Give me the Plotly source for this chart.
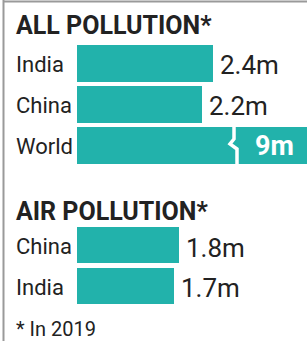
import plotly.graph_objects as go

# ---- data ----
all_categories = ["India", "China", "World"]
all_values = [2.4, 2.2, 9.0]
all_labels = ["2.4m", "2.2m", "9m"]

air_categories = ["China", "India"]
air_values = [1.8, 1.7]
air_labels = ["1.8m", "1.7m"]

title_all = "ALL POLLUTION*"
title_air = "AIR POLLUTION*"
footnote = "* In 2019"

# ---- style ----
W, H = 307, 341
TEAL = "#22b2ab"
TXT = "#222222"
FONT = "Roboto"
X_MAX = 4.05


def py(p):
    return 1 - p / H


def px(p):
    return p / W


fig = go.Figure()
fig.add_trace(go.Bar(orientation="h", y=all_categories, x=all_values, marker_color=TEAL,
                     marker_line_width=0, width=0.88, xaxis="x", yaxis="y", hoverinfo="skip"))
fig.add_trace(go.Bar(orientation="h", y=air_categories, x=air_values, marker_color=TEAL,
                     marker_line_width=0, width=0.88, xaxis="x2", yaxis="y2", hoverinfo="skip"))

annotations = []
# titles
annotations.append(dict(text=title_all, xref="paper", yref="paper", x=px(14), y=py(25),
                        xanchor="left", yanchor="middle", showarrow=False,
                        font=dict(family=FONT, size=25, color=TXT, weight="bold")))
annotations.append(dict(text=title_air, xref="paper", yref="paper", x=px(14), y=py(211),
                        xanchor="left", yanchor="middle", showarrow=False,
                        font=dict(family=FONT, size=25, color=TXT, weight="bold")))
annotations.append(dict(text=footnote, xref="paper", yref="paper", x=px(14), y=py(329),
                        xanchor="left", yanchor="middle", showarrow=False,
                        font=dict(family=FONT, size=20, color=TXT)))

# category labels + value labels
for cats, vals, labs, xr, yr in [(all_categories, all_values, all_labels, "x", "y"),
                                 (air_categories, air_values, air_labels, "x2", "y2")]:
    for c, v, l in zip(cats, vals, labs):
        annotations.append(dict(text=c, xref="paper", yref=yr, x=px(14), y=c,
                                xanchor="left", yanchor="middle", showarrow=False, yshift=-1,
                                font=dict(family=FONT, size=22, color=TXT)))
        if v <= X_MAX:
            annotations.append(dict(text=l, xref=xr, yref=yr, x=v, y=c, xanchor="left",
                                    yanchor="middle", showarrow=False, xshift=5, yshift=-2,
                                    font=dict(family=FONT, size=26, color=TXT)))
        else:
            annotations.append(dict(text=l, xref="paper", yref=yr, x=px(274), y=c,
                                    xanchor="center", yanchor="middle", showarrow=False,
                                    yshift=-1,
                                    font=dict(family=FONT, size=27, color="white",
                                              weight="bold")))

shapes = [
    # frame lines
    dict(type="line", xref="paper", yref="paper", x0=px(3.5), x1=px(3.5), y0=0, y1=1,
         line=dict(color="#9a9a9a", width=2)),
    dict(type="line", xref="paper", yref="paper", x0=px(3), x1=1, y0=py(1.5), y1=py(1.5),
         line=dict(color="#9a9a9a", width=2)),
    # break in the World bar
    dict(type="path", xref="paper", yref="paper",
         path=(f"M {px(234)} {py(126)} L {px(234)} {py(139)} L {px(230)} {py(144)} "
               f"L {px(237)} {py(149)} L {px(237)} {py(164)}"),
         line=dict(color="white", width=3.5)),
]

axis_common = dict(showgrid=False, zeroline=False, showticklabels=False, showline=False,
                   ticks="", fixedrange=True)
fig.update_layout(
    width=W, height=H, margin=dict(l=0, r=0, t=0, b=0),
    paper_bgcolor="white", plot_bgcolor="white", showlegend=False,
    xaxis=dict(domain=[px(77), 1], range=[0, X_MAX], anchor="y", **axis_common),
    yaxis=dict(domain=[py(165.5), py(42.5)], categoryorder="array",
               categoryarray=all_categories[::-1], range=[-0.5, 2.5], anchor="x", **axis_common),
    xaxis2=dict(domain=[px(77), 1], range=[0, X_MAX], anchor="y2", **axis_common),
    yaxis2=dict(domain=[py(306.25), py(225.25)], categoryorder="array",
                categoryarray=air_categories[::-1], range=[-0.5, 1.5], anchor="x2", **axis_common),
    annotations=annotations, shapes=shapes, bargap=0,
)

fig.write_html("out.html", config=dict(displayModeBar=False),
               post_script="document.body.style.margin='0';document.body.style.overflow='hidden';")
